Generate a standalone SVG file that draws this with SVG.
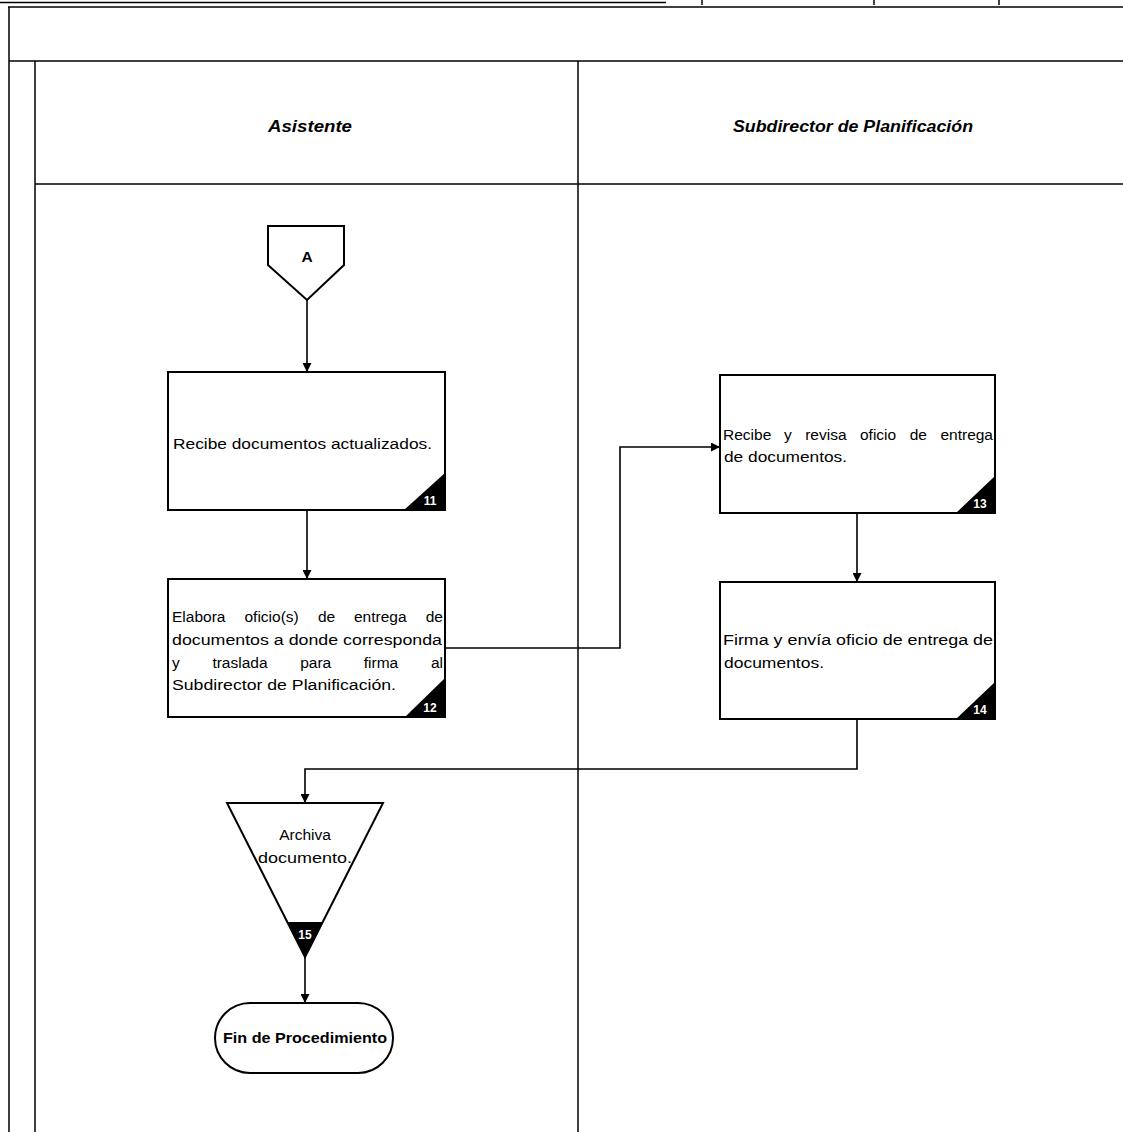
<svg xmlns="http://www.w3.org/2000/svg" width="1123" height="1132" viewBox="0 0 1123 1132">
  <style>
    .frame { fill: none; stroke: #000; stroke-width: 1.5; }
    .box { fill: #fff; stroke: #000; stroke-width: 2; }
    .conn { fill: none; stroke: #000; stroke-width: 1.6; }
    .badge { fill: #000; }
    .num { font-family: "Liberation Sans", Arial, sans-serif; font-size: 12px; font-weight: bold; fill: #fff; text-anchor: middle; }
    .lane { font-family: "Liberation Sans", Arial, sans-serif; font-size: 16px; font-weight: bold; font-style: italic; fill: #000; text-anchor: middle; }
    .txt { font-family: "Liberation Sans", Arial, sans-serif; font-size: 15.5px; fill: #000; }
    .ctr { text-anchor: middle; }
    .end { text-anchor: end; }
    .bold { font-weight: bold; }
  </style>
  <defs>
    <marker id="arrow" viewBox="0 0 10 10" refX="10" refY="5" markerWidth="9" markerHeight="9" markerUnits="userSpaceOnUse" orient="auto">
      <path d="M0,0 L10,5 L0,10 Z" fill="#000"/>
    </marker>
  </defs>

  <rect width="1123" height="1132" fill="#fff"/>

  <!-- page frame and swimlane grid -->
  <g id="frame">
    <line class="frame" x1="0" y1="2.5" x2="666" y2="2.5" stroke-width="2.5"/>
    <line class="frame" x1="8" y1="7" x2="1123" y2="7"/>
    <line class="frame" x1="702" y1="0" x2="702" y2="5"/>
    <line class="frame" x1="874" y1="0" x2="874" y2="5"/>
    <line class="frame" x1="999" y1="0" x2="999" y2="5"/>
    <line class="frame" x1="9" y1="7" x2="9" y2="1132" stroke-width="2"/>
    <line class="frame" x1="9" y1="61" x2="1123" y2="61" stroke-width="2"/>
    <line class="frame" x1="35" y1="61" x2="35" y2="1132"/>
    <line class="frame" x1="35" y1="184" x2="1123" y2="184" stroke-width="2"/>
    <line class="frame" x1="578" y1="61" x2="578" y2="1132"/>
    <text class="lane" x="310" y="132" textLength="84" lengthAdjust="spacingAndGlyphs">Asistente</text>
    <text class="lane" x="853" y="132" textLength="240" lengthAdjust="spacingAndGlyphs">Subdirector de Planificación</text>
  </g>

  <!-- connectors -->
  <g id="connectors">
    <line class="conn" x1="307" y1="300" x2="307" y2="372" marker-end="url(#arrow)"/>
    <line class="conn" x1="307" y1="510" x2="307" y2="579" marker-end="url(#arrow)"/>
    <polyline class="conn" points="445,648 620,648 620,447 720,447" marker-end="url(#arrow)"/>
    <line class="conn" x1="857" y1="513" x2="857" y2="582" marker-end="url(#arrow)"/>
    <polyline class="conn" points="857,719 857,769 305,769 305,803" marker-end="url(#arrow)"/>
    <line class="conn" x1="305" y1="957" x2="305" y2="1003" marker-end="url(#arrow)"/>
  </g>

  <!-- off-page connector A -->
  <g id="node-A">
    <polygon class="box" points="268,226 344,226 344,265 307,300 268,265"/>
    <text class="txt bold ctr" x="307" y="262">A</text>
  </g>

  <!-- step 11 -->
  <g id="node-11">
    <rect class="box" x="168" y="372" width="277" height="138"/>
    <polygon class="badge" points="404,510 445,473 445,510"/>
    <text class="num" x="430" y="505">11</text>
    <text class="txt" x="173" y="449" textLength="259" lengthAdjust="spacingAndGlyphs">Recibe documentos actualizados.</text>
  </g>

  <!-- step 12: justified paragraph, words spread evenly across the line -->
  <g id="node-12">
    <rect class="box" x="168" y="579" width="277" height="138"/>
    <polygon class="badge" points="405,717 445,678 445,717"/>
    <text class="num" x="430" y="712">12</text>
    <text class="txt" y="622"><tspan x="172">Elabora</tspan><tspan x="244.5">oficio(s)</tspan><tspan x="318">de</tspan><tspan x="354">entrega</tspan></text>
    <text class="txt end" x="443" y="622">de</text>
    <text class="txt" x="172" y="645" textLength="270" lengthAdjust="spacingAndGlyphs">documentos a donde corresponda</text>
    <text class="txt" y="668"><tspan x="172">y</tspan><tspan x="212.4">traslada</tspan><tspan x="300.2">para</tspan><tspan x="363.8">firma</tspan></text>
    <text class="txt end" x="443" y="668">al</text>
    <text class="txt" x="172" y="690" textLength="224" lengthAdjust="spacingAndGlyphs">Subdirector de Planificación.</text>
  </g>

  <!-- step 13 -->
  <g id="node-13">
    <rect class="box" x="720" y="375" width="275" height="138"/>
    <polygon class="badge" points="956,513 995,476 995,513"/>
    <text class="num" x="980" y="508">13</text>
    <text class="txt" y="440"><tspan x="723">Recibe</tspan><tspan x="783.9">y</tspan><tspan x="805.2">revisa</tspan><tspan x="860">oficio</tspan><tspan x="909.7">de</tspan></text>
    <text class="txt end" x="993" y="440">entrega</text>
    <text class="txt" x="724" y="462" textLength="123" lengthAdjust="spacingAndGlyphs">de documentos.</text>
  </g>

  <!-- step 14 -->
  <g id="node-14">
    <rect class="box" x="720" y="582" width="275" height="137"/>
    <polygon class="badge" points="956,719 995,682 995,719"/>
    <text class="num" x="980" y="714">14</text>
    <text class="txt" x="723" y="645" textLength="270" lengthAdjust="spacingAndGlyphs">Firma y envía oficio de entrega de</text>
    <text class="txt" x="724" y="668" textLength="100" lengthAdjust="spacingAndGlyphs">documentos.</text>
  </g>

  <!-- step 15: archive -->
  <g id="node-15">
    <polygon class="box" points="227,803 383,803 305,957"/>
    <polygon class="badge" points="287,922 323,922 305,957"/>
    <text class="num" x="305" y="939">15</text>
    <text class="txt ctr" x="305" y="840">Archiva</text>
    <text class="txt ctr" x="305" y="863" textLength="94" lengthAdjust="spacingAndGlyphs">documento.</text>
  </g>

  <!-- end terminator -->
  <g id="node-end">
    <rect class="box" x="215" y="1003" width="178" height="70" rx="35" ry="35"/>
    <text class="txt bold ctr" x="305" y="1043" textLength="164" lengthAdjust="spacingAndGlyphs">Fin de Procedimiento</text>
  </g>
</svg>
